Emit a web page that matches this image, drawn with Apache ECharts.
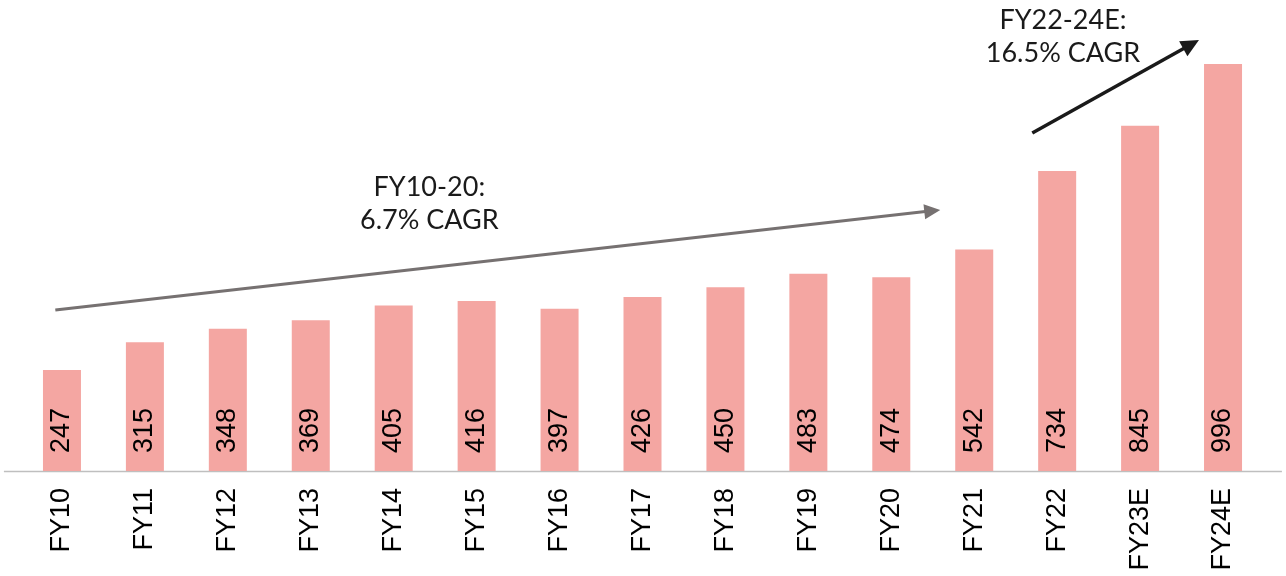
<!DOCTYPE html>
<html><head><meta charset="utf-8">
<script src="https://cdn.jsdelivr.net/npm/echarts@6/dist/echarts.min.js"></script>
<style>html,body{margin:0;padding:0;background:#fff}#c{width:1286px;height:576px}</style>
</head><body><div id="c"></div>
<script>
const categories = ['FY10','FY11','FY12','FY13','FY14','FY15','FY16','FY17','FY18','FY19','FY20','FY21','FY22','FY23E','FY24E'];
const revenue = [247,315,348,369,405,416,397,426,450,483,474,542,734,845,996];
// annotation anchors in data units: [category index (fractional), value]
const grayArrow = [[-0.08, 394], [10.59, 639]];
const blackArrow = [[11.70, 827], [13.71, 1055]];
const grayText = {at: [4.43, 653], lines: ['FY10-20:', '6.7% CAGR']};
const blackText = {at: [12.07, 1063], lines: ['FY22-24E:', '16.5% CAGR']};
const axisSpan = [-0.70, 14.71];

const chart = echarts.init(document.getElementById('c'));
chart.setOption({
  animation: false,
  grid: {left: 20.5, right: 21.5, top: 62.4, bottom: 105, containLabel: false},
  xAxis: {
    type: 'category', data: categories,
    axisLine: {show: false}, axisTick: {show: false},
    axisLabel: {rotate: 90, margin: 17, fontSize: 27, color: '#000', fontFamily: 'Liberation Sans'}
  },
  yAxis: {type: 'value', min: 0, max: 1000, show: false, splitLine: {show: false}},
  series: [{
    type: 'bar', data: revenue, barWidth: 38,
    itemStyle: {color: '#F4A6A2'},
    label: {show: true, position: 'insideBottom', distance: 18, rotate: 90, align: 'left', verticalAlign: 'middle',
      fontSize: 27, color: '#000', fontFamily: 'Liberation Sans'}
  }]
});

function px(p) {
  const i = Math.floor(p[0]);
  const f = p[0] - i;
  const a = chart.convertToPixel({gridIndex: 0}, [0, p[1]]);
  const b = chart.convertToPixel({gridIndex: 0}, [1, p[1]]);
  const step = b[0] - a[0];
  return [a[0] + p[0] * step, a[1]];
}
function arrow(pts, color, w, headLen, headW) {
  const s = px(pts[0]), t = px(pts[1]);
  const dx = t[0] - s[0], dy = t[1] - s[1];
  const L = Math.hypot(dx, dy), ux = dx / L, uy = dy / L;
  const bx = t[0] - ux * headLen, by = t[1] - uy * headLen;
  const nx = -uy, ny = ux;
  return [
    {type: 'line', shape: {x1: s[0], y1: s[1], x2: bx + ux, y2: by + uy}, style: {stroke: color, lineWidth: w}},
    {type: 'polygon', shape: {points: [[t[0], t[1]], [bx + nx * headW, by + ny * headW], [bx - nx * headW, by - ny * headW]]}, style: {fill: color}}
  ];
}
function label(t, color) {
  const p = px(t.at);
  return {type: 'text', x: p[0], y: p[1], style: {text: t.lines.join('\n'), fill: color, font: '27px Lato', lineHeight: 33, align: 'center', verticalAlign: 'middle'}};
}
const a0 = px([axisSpan[0], 0]), a1 = px([axisSpan[1], 0]);
chart.setOption({
  graphic: [
    {type: 'line', shape: {x1: a0[0], y1: a0[1] + 0.5, x2: a1[0], y2: a1[1] + 0.5}, style: {stroke: '#BFBFBF', lineWidth: 1.5}, z: 0},
    ...arrow(grayArrow, '#767171', 3, 16, 7.5),
    ...arrow(blackArrow, '#1A1A1A', 3.5, 18, 8.5),
    label(grayText, '#1A1A1A'),
    label(blackText, '#1A1A1A')
  ]
});
</script></body></html>
